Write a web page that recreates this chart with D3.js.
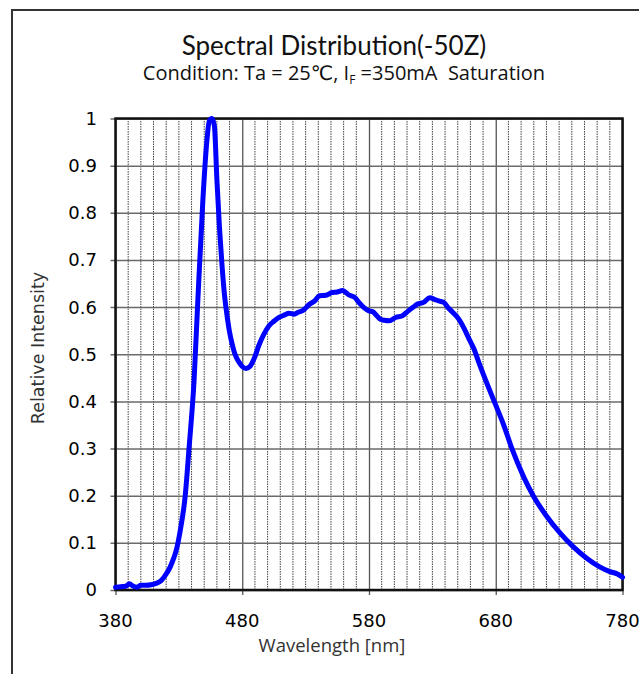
<!DOCTYPE html>
<html>
<head>
<meta charset="utf-8">
<script src="https://cdn.jsdelivr.net/npm/d3@7"></script>
<style>
  html, body { margin: 0; padding: 0; background: #fff; }
  svg { display: block; }
</style>
</head>
<body>
<svg id="chart" width="639" height="674"></svg>
<script>
// ---- data ----
const wavelength = [380,384,388,391,394,397,400,404,408,412,416,419,423,426,428,431,435,438,442,445,449,452,454,456,458,460,462,464,466,468,470,472,474,477,480,483,486,490,493,497,501,505,509,513,517,521,524,528,533,537,541,546,551,555,559,564,569,572,576,580,583,586,589,592,596,601,606,611,615,618,623,628,632,635,639,642,646,651,655,659,663,667,671,675,680,686,693,702,710,720,731,741,752,762,770,776,780];
const intensity = [0.006,0.007,0.008,0.013,0.008,0.006,0.010,0.010,0.011,0.014,0.020,0.030,0.048,0.068,0.085,0.125,0.200,0.300,0.445,0.617,0.830,0.950,0.995,1.000,0.985,0.870,0.770,0.690,0.625,0.582,0.547,0.522,0.502,0.485,0.474,0.470,0.474,0.495,0.518,0.542,0.560,0.570,0.578,0.583,0.587,0.585,0.589,0.593,0.606,0.613,0.624,0.625,0.631,0.632,0.635,0.626,0.620,0.610,0.599,0.592,0.590,0.582,0.574,0.572,0.571,0.578,0.581,0.592,0.600,0.606,0.610,0.620,0.616,0.613,0.610,0.600,0.589,0.574,0.555,0.532,0.510,0.480,0.452,0.425,0.392,0.352,0.298,0.240,0.198,0.157,0.120,0.092,0.067,0.049,0.039,0.034,0.027];
const xTickValues = [380,480,580,680,780];
const yTickValues = [0,0.1,0.2,0.3,0.4,0.5,0.6,0.7,0.8,0.9,1];
const yTickLabels = ["0","0.1","0.2","0.3","0.4","0.5","0.6","0.7","0.8","0.9","1"];
const titleText = "Spectral Distribution(-50Z)";
const xAxisTitle = "Wavelength [nm]";
const yAxisTitle = "Relative Intensity";

// ---- layout ----
const svg = d3.select("#chart");
const pLeft = 115.5, pRight = 622.5, pTop = 118.5, pBottom = 590;
const x = d3.scaleLinear().domain([380, 780]).range([pLeft, pRight]);
const y = d3.scaleLinear().domain([0, 1]).range([pBottom, pTop]);

// outer frame (left and top edges visible)
svg.append("line").attr("x1", 12).attr("x2", 12).attr("y1", 10).attr("y2", 674)
  .attr("stroke", "#333").attr("stroke-width", 2);
svg.append("line").attr("x1", 11).attr("x2", 639).attr("y1", 10).attr("y2", 10)
  .attr("stroke", "#333").attr("stroke-width", 2);

// minor vertical grid (every 10 nm)
const minorX = d3.range(390, 780, 10).filter(v => v % 100 !== 80);
svg.append("g").selectAll("line").data(minorX).join("line")
  .attr("x1", d => x(d)).attr("x2", d => x(d))
  .attr("y1", pTop).attr("y2", pBottom)
  .attr("stroke", "#444").attr("stroke-width", 1).attr("stroke-dasharray", "1.5,1");

// major vertical grid + ticks via axis
const xAxis = d3.axisBottom(x).tickValues(xTickValues).tickSizeInner(-(pBottom - pTop) - 5).tickSizeOuter(0).tickFormat("");
svg.append("g").attr("transform", `translate(0,${pBottom + 5})`).call(xAxis)
  .call(g => g.select(".domain").remove())
  .call(g => g.selectAll(".tick line").attr("stroke", "#555").attr("stroke-width", 1.3));

// horizontal grid + outward ticks
const yAxis = d3.axisLeft(y).tickValues(yTickValues).tickSizeInner(-(pRight - pLeft) - 5).tickSizeOuter(0).tickFormat("");
svg.append("g").attr("transform", `translate(${pLeft - 5},0)`).call(yAxis)
  .call(g => g.select(".domain").remove())
  .call(g => g.selectAll(".tick line").attr("stroke", "#6a6a6a").attr("stroke-width", 1.5));

// tick labels
svg.append("g").selectAll("text").data(yTickValues).join("text")
  .attr("x", 97).attr("y", d => y(d)).attr("dy", "0.36em")
  .attr("text-anchor", "end")
  .style("font-family", "'DejaVu Sans', sans-serif").style("font-size", "18px").attr("fill", "#000")
  .text((d, i) => yTickLabels[i]);
svg.append("g").selectAll("text").data(xTickValues).join("text")
  .attr("x", d => x(d)).attr("y", 627)
  .attr("text-anchor", "middle")
  .style("font-family", "'DejaVu Sans', sans-serif").style("font-size", "18px").attr("fill", "#000")
  .text(d => d);

// plot frame
svg.append("rect").attr("x", pLeft).attr("y", pTop).attr("width", pRight - pLeft).attr("height", pBottom - pTop)
  .attr("fill", "none").attr("stroke", "#111").attr("stroke-width", 2.5);

// curve
const pts = wavelength.map((w, i) => [w, intensity[i]]);
const line = d3.line().x(d => x(d[0])).y(d => y(d[1])).curve(d3.curveMonotoneX);
svg.append("path").datum(pts).attr("d", line)
  .attr("fill", "none").attr("stroke", "#0000ff").attr("stroke-width", 5)
  .attr("stroke-linejoin", "round").attr("stroke-linecap", "round");

// titles
svg.append("text").attr("x", 334).attr("y", 55).attr("text-anchor", "middle")
  .style("font-family", "Lato, 'Open Sans', sans-serif").style("font-size", "26px").attr("fill", "#111")
  .text(titleText);
const sub = svg.append("text").attr("x", 344).attr("y", 80).attr("text-anchor", "middle")
  .attr("xml:space", "preserve")
  .style("font-family", "'Open Sans', 'DejaVu Sans', sans-serif").style("font-size", "20px").attr("fill", "#111");
sub.append("tspan").text("Condition: Ta = 25℃, I");
sub.append("tspan").attr("dy", 4).style("font-size", "12px").text("F");
sub.append("tspan").attr("dy", -4).text(" =350mA  Saturation");

svg.append("text").attr("x", 332).attr("y", 652).attr("text-anchor", "middle")
  .style("font-family", "'Open Sans', Lato, sans-serif").style("font-size", "18.5px").attr("fill", "#333")
  .text(xAxisTitle);
svg.append("text").attr("transform", "translate(44,348) rotate(-90)").attr("text-anchor", "middle")
  .style("font-family", "'DejaVu Sans', sans-serif").style("font-size", "17.5px").attr("fill", "#333")
  .text(yAxisTitle);
</script>
</body>
</html>
